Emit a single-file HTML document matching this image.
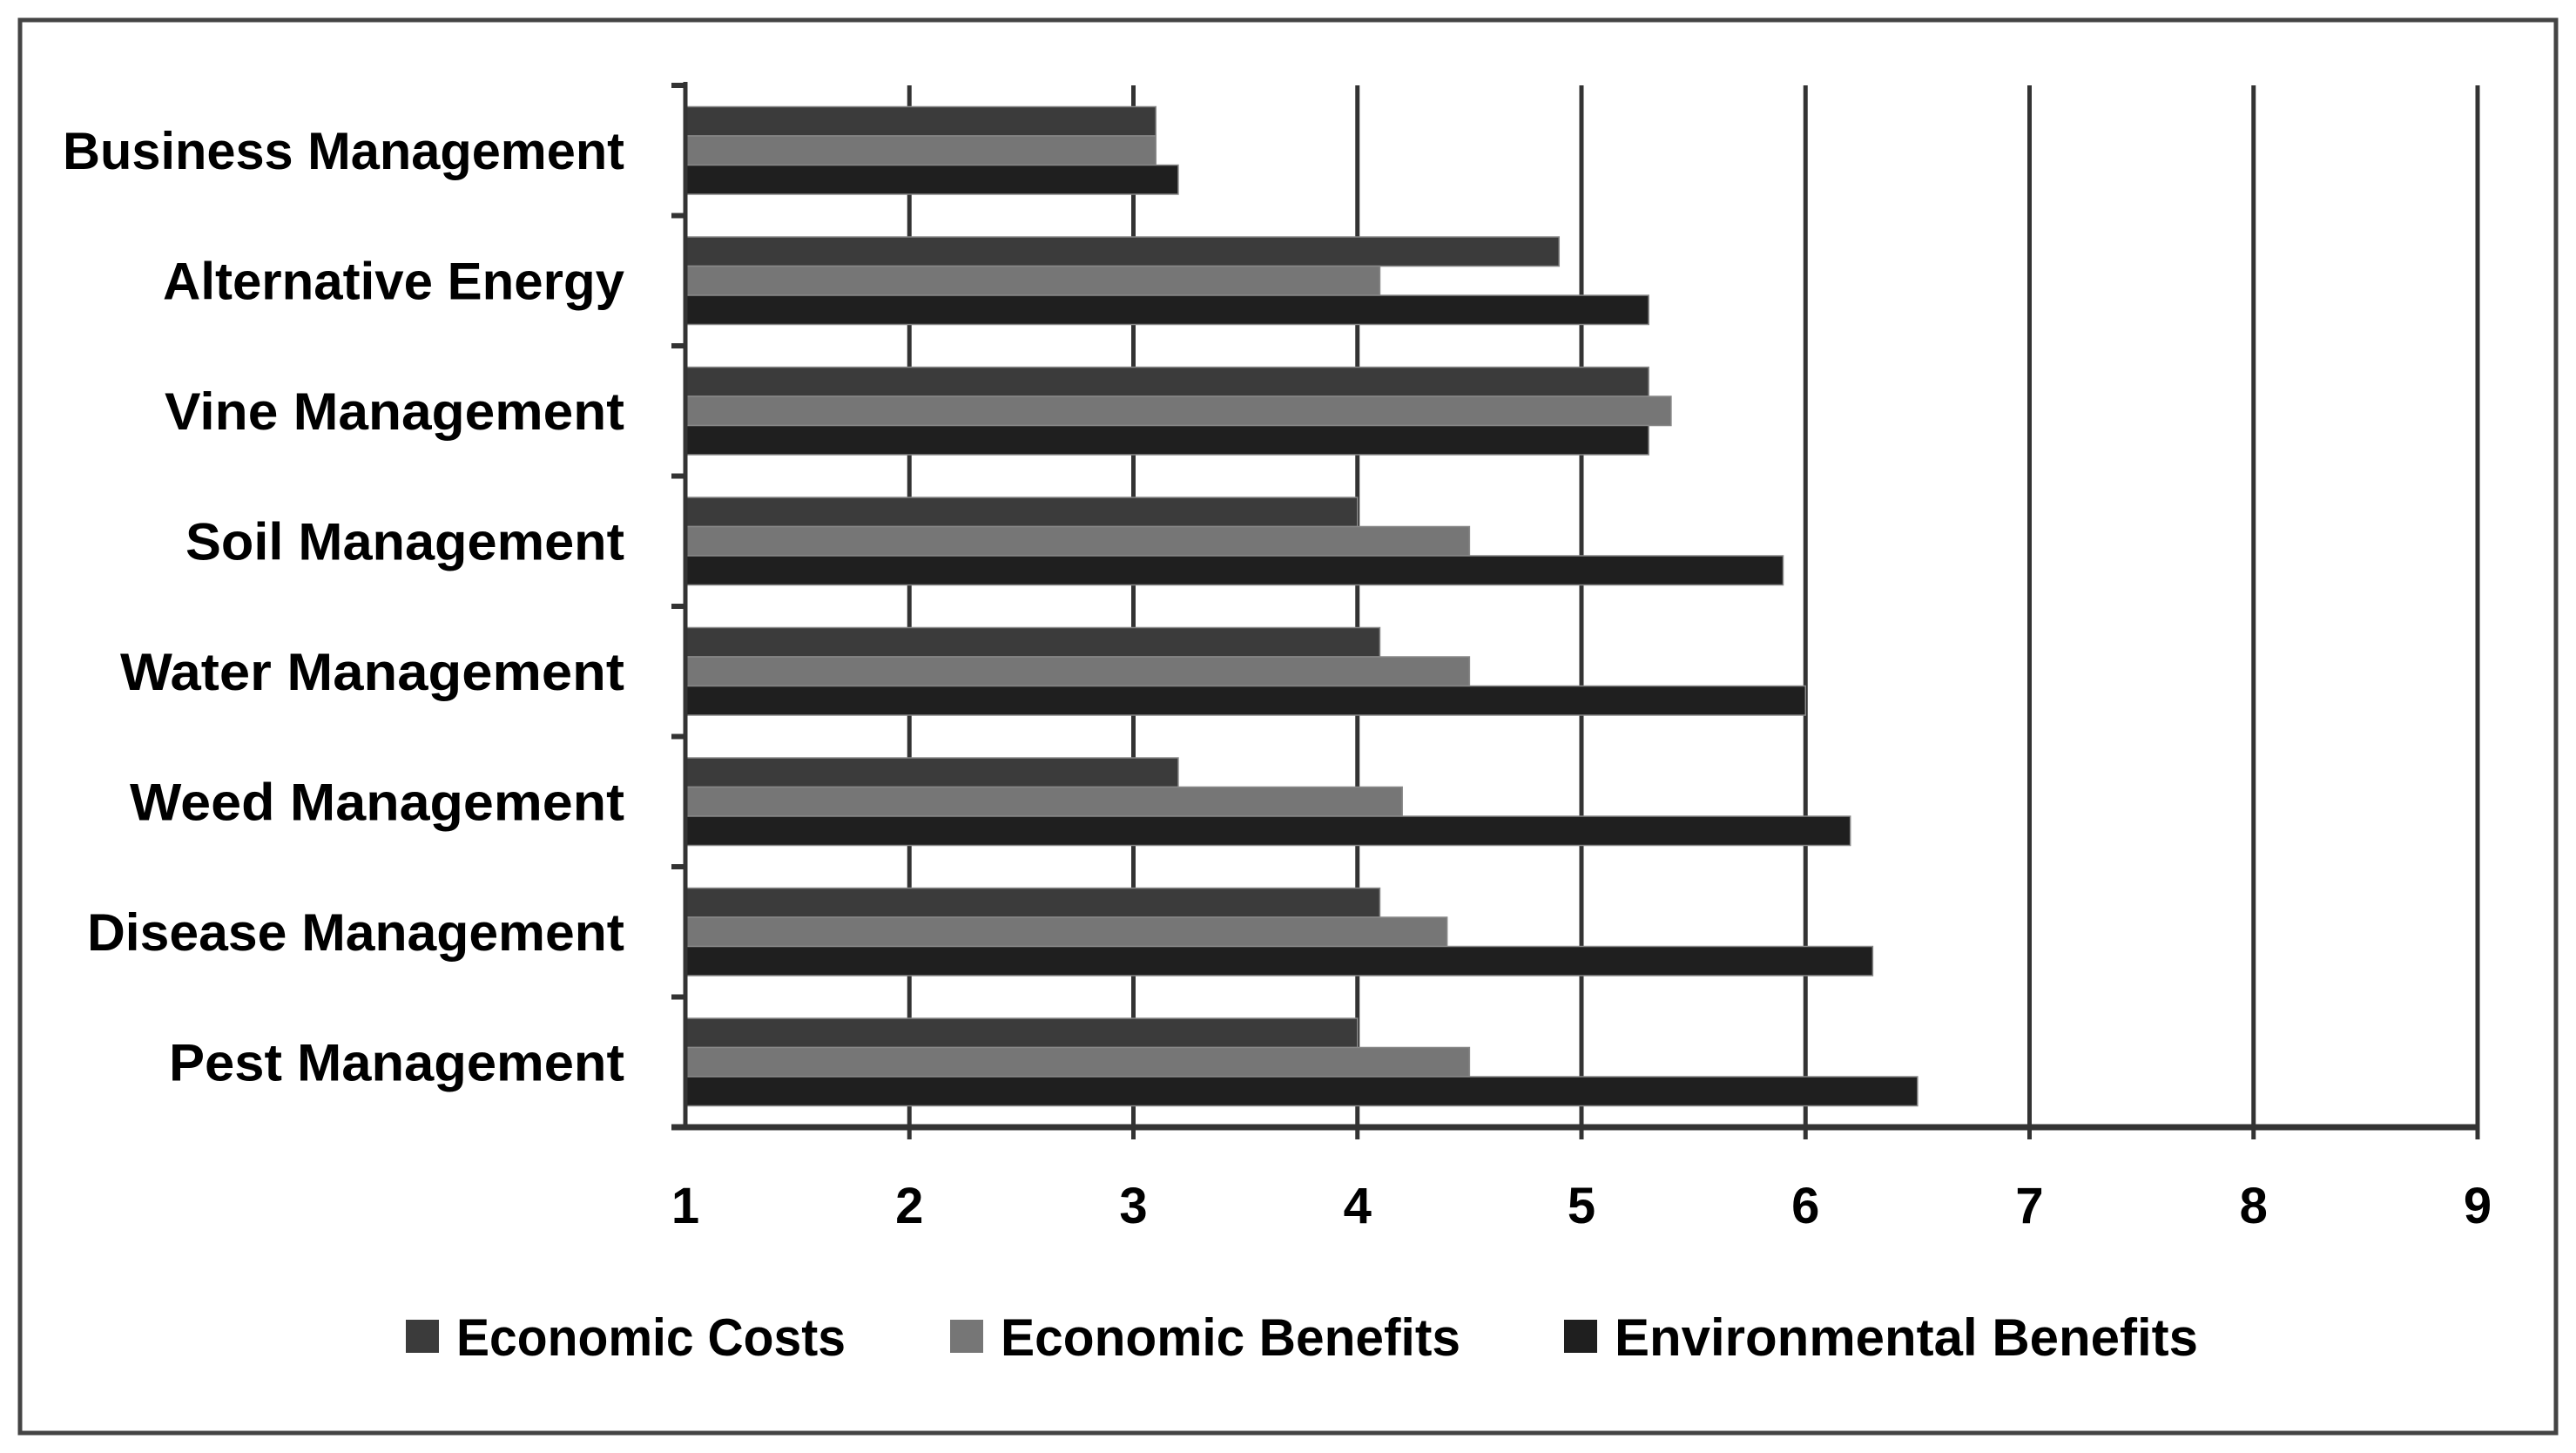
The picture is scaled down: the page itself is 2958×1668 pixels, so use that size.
<!DOCTYPE html>
<html><head><meta charset="utf-8"><style>
html,body{margin:0;padding:0;background:#fff;}
svg{display:block;font-family:"Liberation Sans",sans-serif;}
</style></head><body>
<svg id="chart" width="2958" height="1668" viewBox="0 0 2958 1668">
<rect x="23" y="23" width="2912" height="1622" fill="#fff" stroke="#444" stroke-width="5"/>
<g id="grid"></g>
<g id="bars"></g>
<g id="axes"></g>
<g id="legend"></g>
</svg>
<script>
const categories = ["Business Management","Alternative Energy","Vine Management","Soil Management","Water Management","Weed Management","Disease Management","Pest Management"];
const economicCosts = [3.1,4.9,5.3,4.0,4.1,3.2,4.1,4.0];
const economicBenefits = [3.1,4.1,5.4,4.5,4.5,4.2,4.4,4.5];
const environmentalBenefits = [3.2,5.3,5.3,5.9,6.0,6.2,6.3,6.5];
const seriesNames = ["Economic Costs","Economic Benefits","Environmental Benefits"];
const xTicks = [1,2,3,4,5,6,7,8,9];

const NS="http://www.w3.org/2000/svg";
const L=787,R=2845,T=98,B=1294,xMin=1,xMax=9;
const colors=["#3b3b3b","#767676","#1f1f1f"];
const labelWidths=[645,530,528,504,579,568,617,523];
const legendWidths=[447,528,670];
const series=[economicCosts,economicBenefits,environmentalBenefits];
function xs(v){return L+(v-xMin)/(xMax-xMin)*(R-L);}
const band=(B-T)/categories.length;
function yc(i){return T+band*(i+0.5);}
function mk(tag,attrs,parent){const e=document.createElementNS(NS,tag);for(const k in attrs)e.setAttribute(k,attrs[k]);parent.appendChild(e);return e;}
const grid=document.getElementById('grid'),bars=document.getElementById('bars'),axes=document.getElementById('axes'),legend=document.getElementById('legend');

xTicks.forEach(t=>{
  if(t>xMin){const g=mk('line',{x1:xs(t),x2:xs(t),y1:T,y2:B+14,stroke:'#333','stroke-width':5},grid);
  
  }
  const tx=mk('text',{x:xs(t),y:1404,'text-anchor':'middle','font-size':58,'font-weight':'bold',fill:'#000'},axes);
  tx.textContent=t;
  
  
});
const bh=33.5;
categories.forEach((c,i)=>{
  series.forEach((s,j)=>{
    const y=yc(i)-1.5*bh+j*bh;
    const r=mk('rect',{x:L,y:y,width:xs(s[i])-L,height:bh,fill:colors[j],stroke:'#888','stroke-width':1.5},bars);
    
    
  });
  const t=mk('text',{x:717,y:yc(i)+21,'text-anchor':'end','font-size':60,'font-weight':'bold',fill:'#000',textLength:labelWidths[i],lengthAdjust:'spacingAndGlyphs'},axes);
  t.textContent=c;
  
  
});
for(let i=0;i<=categories.length;i++){
  const tk=mk('line',{x1:L-16,x2:L,y1:T+band*i,y2:T+band*i,stroke:'#333','stroke-width':6},axes);
  
  
}
const ya=mk('line',{x1:L,x2:L,y1:T-4,y2:B,stroke:'#333','stroke-width':5},axes);


const xa=mk('line',{x1:L-16,x2:R,y1:B,y2:B,stroke:'#333','stroke-width':7},axes);



const lx=[466,1091,1796];
seriesNames.forEach((n,j)=>{
  const sq=mk('rect',{x:lx[j],y:1515,width:38,height:38,fill:colors[j]},legend);
  
  
  const t=mk('text',{x:lx[j]+58,y:1556,'font-size':60,'font-weight':'bold',fill:'#000',textLength:legendWidths[j],lengthAdjust:'spacingAndGlyphs'},legend);
  t.textContent=n;
  
  
});
</script>
</body></html>
